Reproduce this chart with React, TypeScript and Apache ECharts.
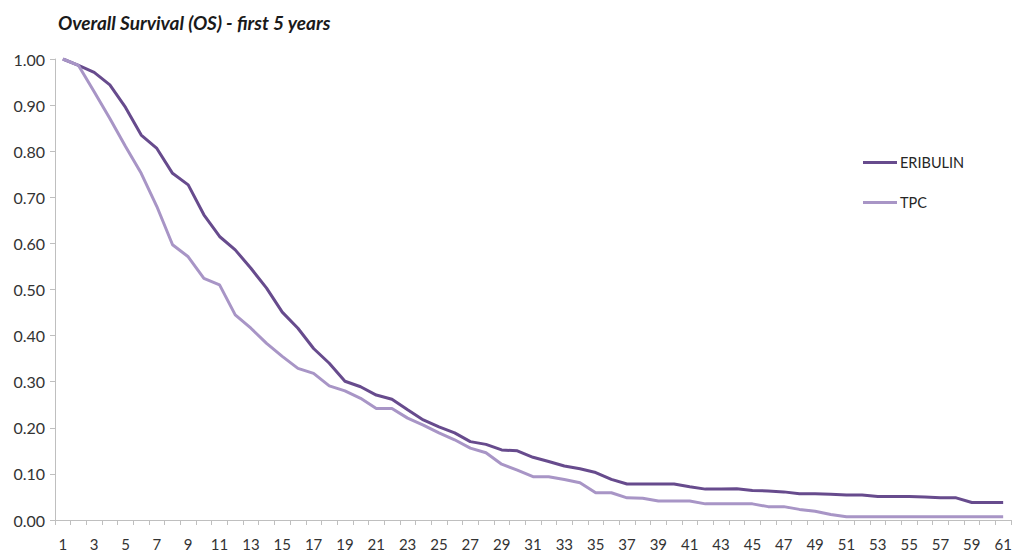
import React, { useEffect, useRef } from "react";
import * as echarts from "echarts";

const months = Array.from({ length: 61 }, (_, i) => String(i + 1));

const eribulin = [
  1.0, 0.986, 0.971, 0.944, 0.895, 0.835, 0.806, 0.752, 0.727, 0.662,
  0.615, 0.586, 0.546, 0.503, 0.451, 0.416, 0.372, 0.34, 0.301, 0.289,
  0.271, 0.262, 0.239, 0.217, 0.202, 0.189, 0.17, 0.164, 0.152, 0.15,
  0.136, 0.127, 0.117, 0.111, 0.103, 0.088, 0.078, 0.078, 0.078, 0.078,
  0.072, 0.067, 0.067, 0.068, 0.064, 0.063, 0.061, 0.057, 0.057, 0.056,
  0.054, 0.054, 0.051, 0.051, 0.051, 0.05, 0.048, 0.048, 0.038, 0.038,
  0.038,
];

const tpc = [
  1.0, 0.986, 0.929, 0.871, 0.81, 0.752, 0.68, 0.597, 0.571, 0.524,
  0.51, 0.445, 0.416, 0.383, 0.355, 0.329, 0.318, 0.291, 0.28, 0.264,
  0.242, 0.242, 0.221, 0.206, 0.189, 0.174, 0.156, 0.146, 0.121, 0.108,
  0.094, 0.094, 0.088, 0.081, 0.059, 0.059, 0.048, 0.047, 0.041, 0.041,
  0.041, 0.035, 0.035, 0.035, 0.035, 0.029, 0.029, 0.023, 0.019, 0.012,
  0.007, 0.007, 0.007, 0.007, 0.007, 0.007, 0.007, 0.007, 0.007, 0.007,
  0.007,
];

const DARK = "#674b8d";
const LIGHT = "#a895c6";
const FONT = "Lato, 'Open Sans', sans-serif";

export default function App() {
  const ref = useRef<HTMLDivElement>(null);
  useEffect(() => {
    document.body.style.margin = "0";
    if (!ref.current) return;
    const chart = echarts.init(ref.current, undefined, { renderer: "svg" });
    chart.setOption({
      animation: false,
      backgroundColor: "#ffffff",
      title: {
        text: "Overall Survival (OS) - first 5 years",
        left: 53,
        top: 8,
        textStyle: {
          fontFamily: FONT,
          fontSize: 19,
          fontWeight: "bold",
          fontStyle: "italic",
          color: "#1a1a1a",
        },
      },
      legend: {
        orient: "vertical",
        left: 858,
        top: 150,
        itemWidth: 34,
        itemHeight: 3,
        itemGap: 25,
        icon: "rect",
        textStyle: { fontFamily: FONT, fontSize: 14.5, color: "#262626", padding: [0, 0, 0, -2] },
        data: ["ERIBULIN", "TPC"],
      },
      grid: { left: 55, right: 6, top: 59, bottom: 37, outerBoundsMode: "none", containLabel: false },
      xAxis: {
        type: "category",
        data: months,
        boundaryGap: true,
        axisLine: { lineStyle: { color: "#bfbfbf", width: 1 } },
        axisTick: { show: true, alignWithLabel: false, interval: 0, length: 5, lineStyle: { color: "#bfbfbf" } },
        axisLabel: {
          interval: 1,
          fontFamily: FONT,
          fontSize: 15,
          color: "#333333",
          margin: 16,
        },
        splitLine: { show: false },
      },
      yAxis: {
        type: "value",
        min: 0,
        max: 1,
        interval: 0.1,
        axisLine: { show: true, lineStyle: { color: "#bfbfbf", width: 1 } },
        axisTick: { show: true, length: 5, lineStyle: { color: "#bfbfbf" } },
        axisLabel: {
          formatter: (v: number) => v.toFixed(2),
          fontFamily: FONT,
          fontSize: 16,
          color: "#333333",
          margin: 10,
        },
        splitLine: { show: false },
      },
      series: [
        {
          name: "ERIBULIN",
          type: "line",
          data: eribulin,
          showSymbol: false,
          symbol: "none",
          lineStyle: { color: DARK, width: 3 },
          itemStyle: { color: DARK },
        },
        {
          name: "TPC",
          type: "line",
          data: tpc,
          showSymbol: false,
          symbol: "none",
          lineStyle: { color: LIGHT, width: 3 },
          itemStyle: { color: LIGHT },
        },
      ],
    });
    return () => chart.dispose();
  }, []);
  return <div ref={ref} style={{ width: 1017, height: 557 }} />;
}
